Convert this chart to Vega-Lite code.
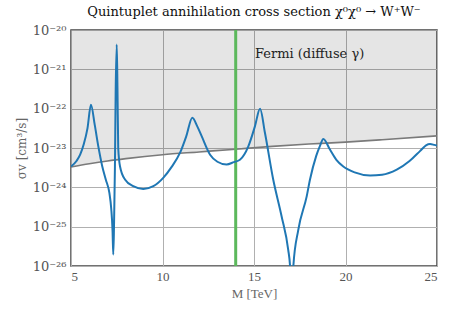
{
  "$schema": "https://vega.github.io/schema/vega-lite/v6.json",
  "width": 366,
  "height": 236,
  "autosize": {"type": "none"},
  "padding": {"left": 71, "top": 30, "right": 21, "bottom": 49},
  "background": "white",
  "title": {
    "text": "Quintuplet annihilation cross section χ⁰χ⁰ → W⁺W⁻",
    "font": "DejaVu Serif",
    "fontSize": 13,
    "fontWeight": "normal",
    "color": "#111",
    "offset": 5
  },
  "config": {
    "view": {"stroke": "#444", "strokeWidth": 1.5},
    "axis": {
      "labelFont": "Liberation Serif",
      "titleFont": "Liberation Serif",
      "labelFontSize": 13,
      "titleFontSize": 13,
      "labelColor": "#555",
      "titleColor": "#666",
      "titleFontWeight": "normal",
      "grid": true,
      "gridColor": "#b0b0b0",
      "gridWidth": 1,
      "domain": false,
      "tickColor": "#444",
      "tickSize": 0,
      "labelPadding": 6
    }
  },
  "datasets": {
    "fermi": [
      {"M": 5, "sv": 3.31e-24},
      {"M": 6, "sv": 3.98e-24},
      {"M": 7, "sv": 4.68e-24},
      {"M": 8, "sv": 5.37e-24},
      {"M": 10, "sv": 6.76e-24},
      {"M": 12, "sv": 7.94e-24},
      {"M": 14, "sv": 9.33e-24},
      {"M": 16, "sv": 1.10e-23},
      {"M": 18, "sv": 1.26e-23},
      {"M": 20, "sv": 1.41e-23},
      {"M": 22, "sv": 1.62e-23},
      {"M": 25, "sv": 2.04e-23}
    ],
    "sigma": [
      {"M": 5.0, "sv": 3.39e-24},
      {"M": 5.3, "sv": 4.68e-24},
      {"M": 5.5, "sv": 6.76e-24},
      {"M": 5.7, "sv": 1.26e-23},
      {"M": 5.9, "sv": 3.16e-23},
      {"M": 6.09, "sv": 1.26e-22},
      {"M": 6.3, "sv": 3.80e-23},
      {"M": 6.5, "sv": 1.05e-23},
      {"M": 6.7, "sv": 3.55e-24},
      {"M": 6.9, "sv": 1.58e-24},
      {"M": 7.1, "sv": 7.08e-25},
      {"M": 7.2, "sv": 2.82e-25},
      {"M": 7.27, "sv": 7.94e-26},
      {"M": 7.31, "sv": 1.95e-26},
      {"M": 7.35, "sv": 1.0e-25},
      {"M": 7.40, "sv": 3.16e-24},
      {"M": 7.44, "sv": 2.51e-22},
      {"M": 7.50, "sv": 4.27e-21},
      {"M": 7.54, "sv": 3.16e-22},
      {"M": 7.58, "sv": 1.0e-23},
      {"M": 7.68, "sv": 3.39e-24},
      {"M": 7.95, "sv": 1.58e-24},
      {"M": 8.4, "sv": 1.07e-24},
      {"M": 8.95, "sv": 9.12e-25},
      {"M": 9.5, "sv": 1.07e-24},
      {"M": 10.04, "sv": 1.74e-24},
      {"M": 10.5, "sv": 3.31e-24},
      {"M": 10.96, "sv": 7.59e-24},
      {"M": 11.3, "sv": 2.0e-23},
      {"M": 11.63, "sv": 5.89e-23},
      {"M": 11.9, "sv": 3.55e-23},
      {"M": 12.14, "sv": 2.0e-23},
      {"M": 12.6, "sv": 6.76e-24},
      {"M": 13.0, "sv": 4.47e-24},
      {"M": 13.5, "sv": 3.80e-24},
      {"M": 13.9, "sv": 4.37e-24},
      {"M": 14.23, "sv": 5.01e-24},
      {"M": 14.69, "sv": 1.10e-23},
      {"M": 15.05, "sv": 3.55e-23},
      {"M": 15.33, "sv": 1.0e-22},
      {"M": 15.6, "sv": 2.40e-23},
      {"M": 16.05, "sv": 1.58e-24},
      {"M": 16.51, "sv": 1.82e-25},
      {"M": 16.87, "sv": 2.57e-26},
      {"M": 16.97, "sv": 1.0e-26},
      {"M": 17.06, "sv": 1.0e-27},
      {"M": 17.15, "sv": 1.0e-26},
      {"M": 17.42, "sv": 8.32e-26},
      {"M": 17.88, "sv": 5.89e-25},
      {"M": 18.06, "sv": 1.58e-24},
      {"M": 18.4, "sv": 6.31e-24},
      {"M": 18.6, "sv": 1.12e-23},
      {"M": 18.79, "sv": 1.70e-23},
      {"M": 19.15, "sv": 9.12e-24},
      {"M": 19.5, "sv": 5.01e-24},
      {"M": 19.88, "sv": 3.39e-24},
      {"M": 20.5, "sv": 2.40e-24},
      {"M": 21.34, "sv": 2.0e-24},
      {"M": 22.0, "sv": 2.09e-24},
      {"M": 22.8, "sv": 2.82e-24},
      {"M": 23.5, "sv": 4.68e-24},
      {"M": 24.07, "sv": 8.32e-24},
      {"M": 24.4, "sv": 1.17e-23},
      {"M": 24.62, "sv": 1.26e-23},
      {"M": 24.85, "sv": 1.20e-23},
      {"M": 25.0, "sv": 1.15e-23}
    ]
  },
  "encoding": {
    "x": {
      "field": "M",
      "type": "quantitative",
      "scale": {"domain": [5, 25], "nice": false, "zero": false},
      "axis": {"title": "M [TeV]", "values": [5, 10, 15, 20, 25], "titlePadding": 4, "labelPadding": 4}
    }
  },
  "layer": [
    {
      "data": {"name": "fermi"},
      "mark": {"type": "area", "color": "black", "opacity": 0.1},
      "encoding": {
        "y": {
          "field": "sv",
          "type": "quantitative",
          "scale": {"type": "log", "domain": [1e-26, 1e-20], "nice": false},
          "axis": {
            "title": "σv [cm³/s]",
            "titleFont": "DejaVu Serif",
            "titleFontSize": 12,
            "labelFont": "DejaVu Serif",
            "labelFontSize": 13,
            "values": [1e-26, 1e-25, 1e-24, 1e-23, 1e-22, 1e-21, 1e-20],
            "labelExpr": "['10⁻²⁰','10⁻²¹','10⁻²²','10⁻²³','10⁻²⁴','10⁻²⁵','10⁻²⁶'][-round(log(datum.value)/LN10) - 20]",
            "labelPadding": 5,
            "titleX": -50,
            "titleY": 118,
            "titleBaseline": "middle",
            "titleAngle": 270
          }
        },
        "y2": {"datum": 1e-20}
      }
    },
    {
      "data": {"name": "fermi"},
      "mark": {"type": "line", "color": "#7a7a7a", "strokeWidth": 1.6, "interpolate": "monotone"},
      "encoding": {"y": {"field": "sv", "type": "quantitative"}}
    },
    {
      "data": {"values": [{"M": 14}]},
      "mark": {"type": "rule", "color": "#5cb85c", "strokeWidth": 3},
      "encoding": {}
    },
    {
      "data": {"name": "sigma"},
      "mark": {"type": "line", "color": "#1f77b4", "strokeWidth": 2, "interpolate": "monotone", "clip": true},
      "encoding": {"y": {"field": "sv", "type": "quantitative"}}
    },
    {
      "data": {"values": [{"M": 15.05, "sv": 2.5e-21, "label": "Fermi (diffuse γ)"}]},
      "mark": {"type": "text", "align": "left", "baseline": "middle", "font": "DejaVu Serif", "fontSize": 13, "color": "#222"},
      "encoding": {"y": {"field": "sv", "type": "quantitative"}, "text": {"field": "label"}}
    }
  ]
}
